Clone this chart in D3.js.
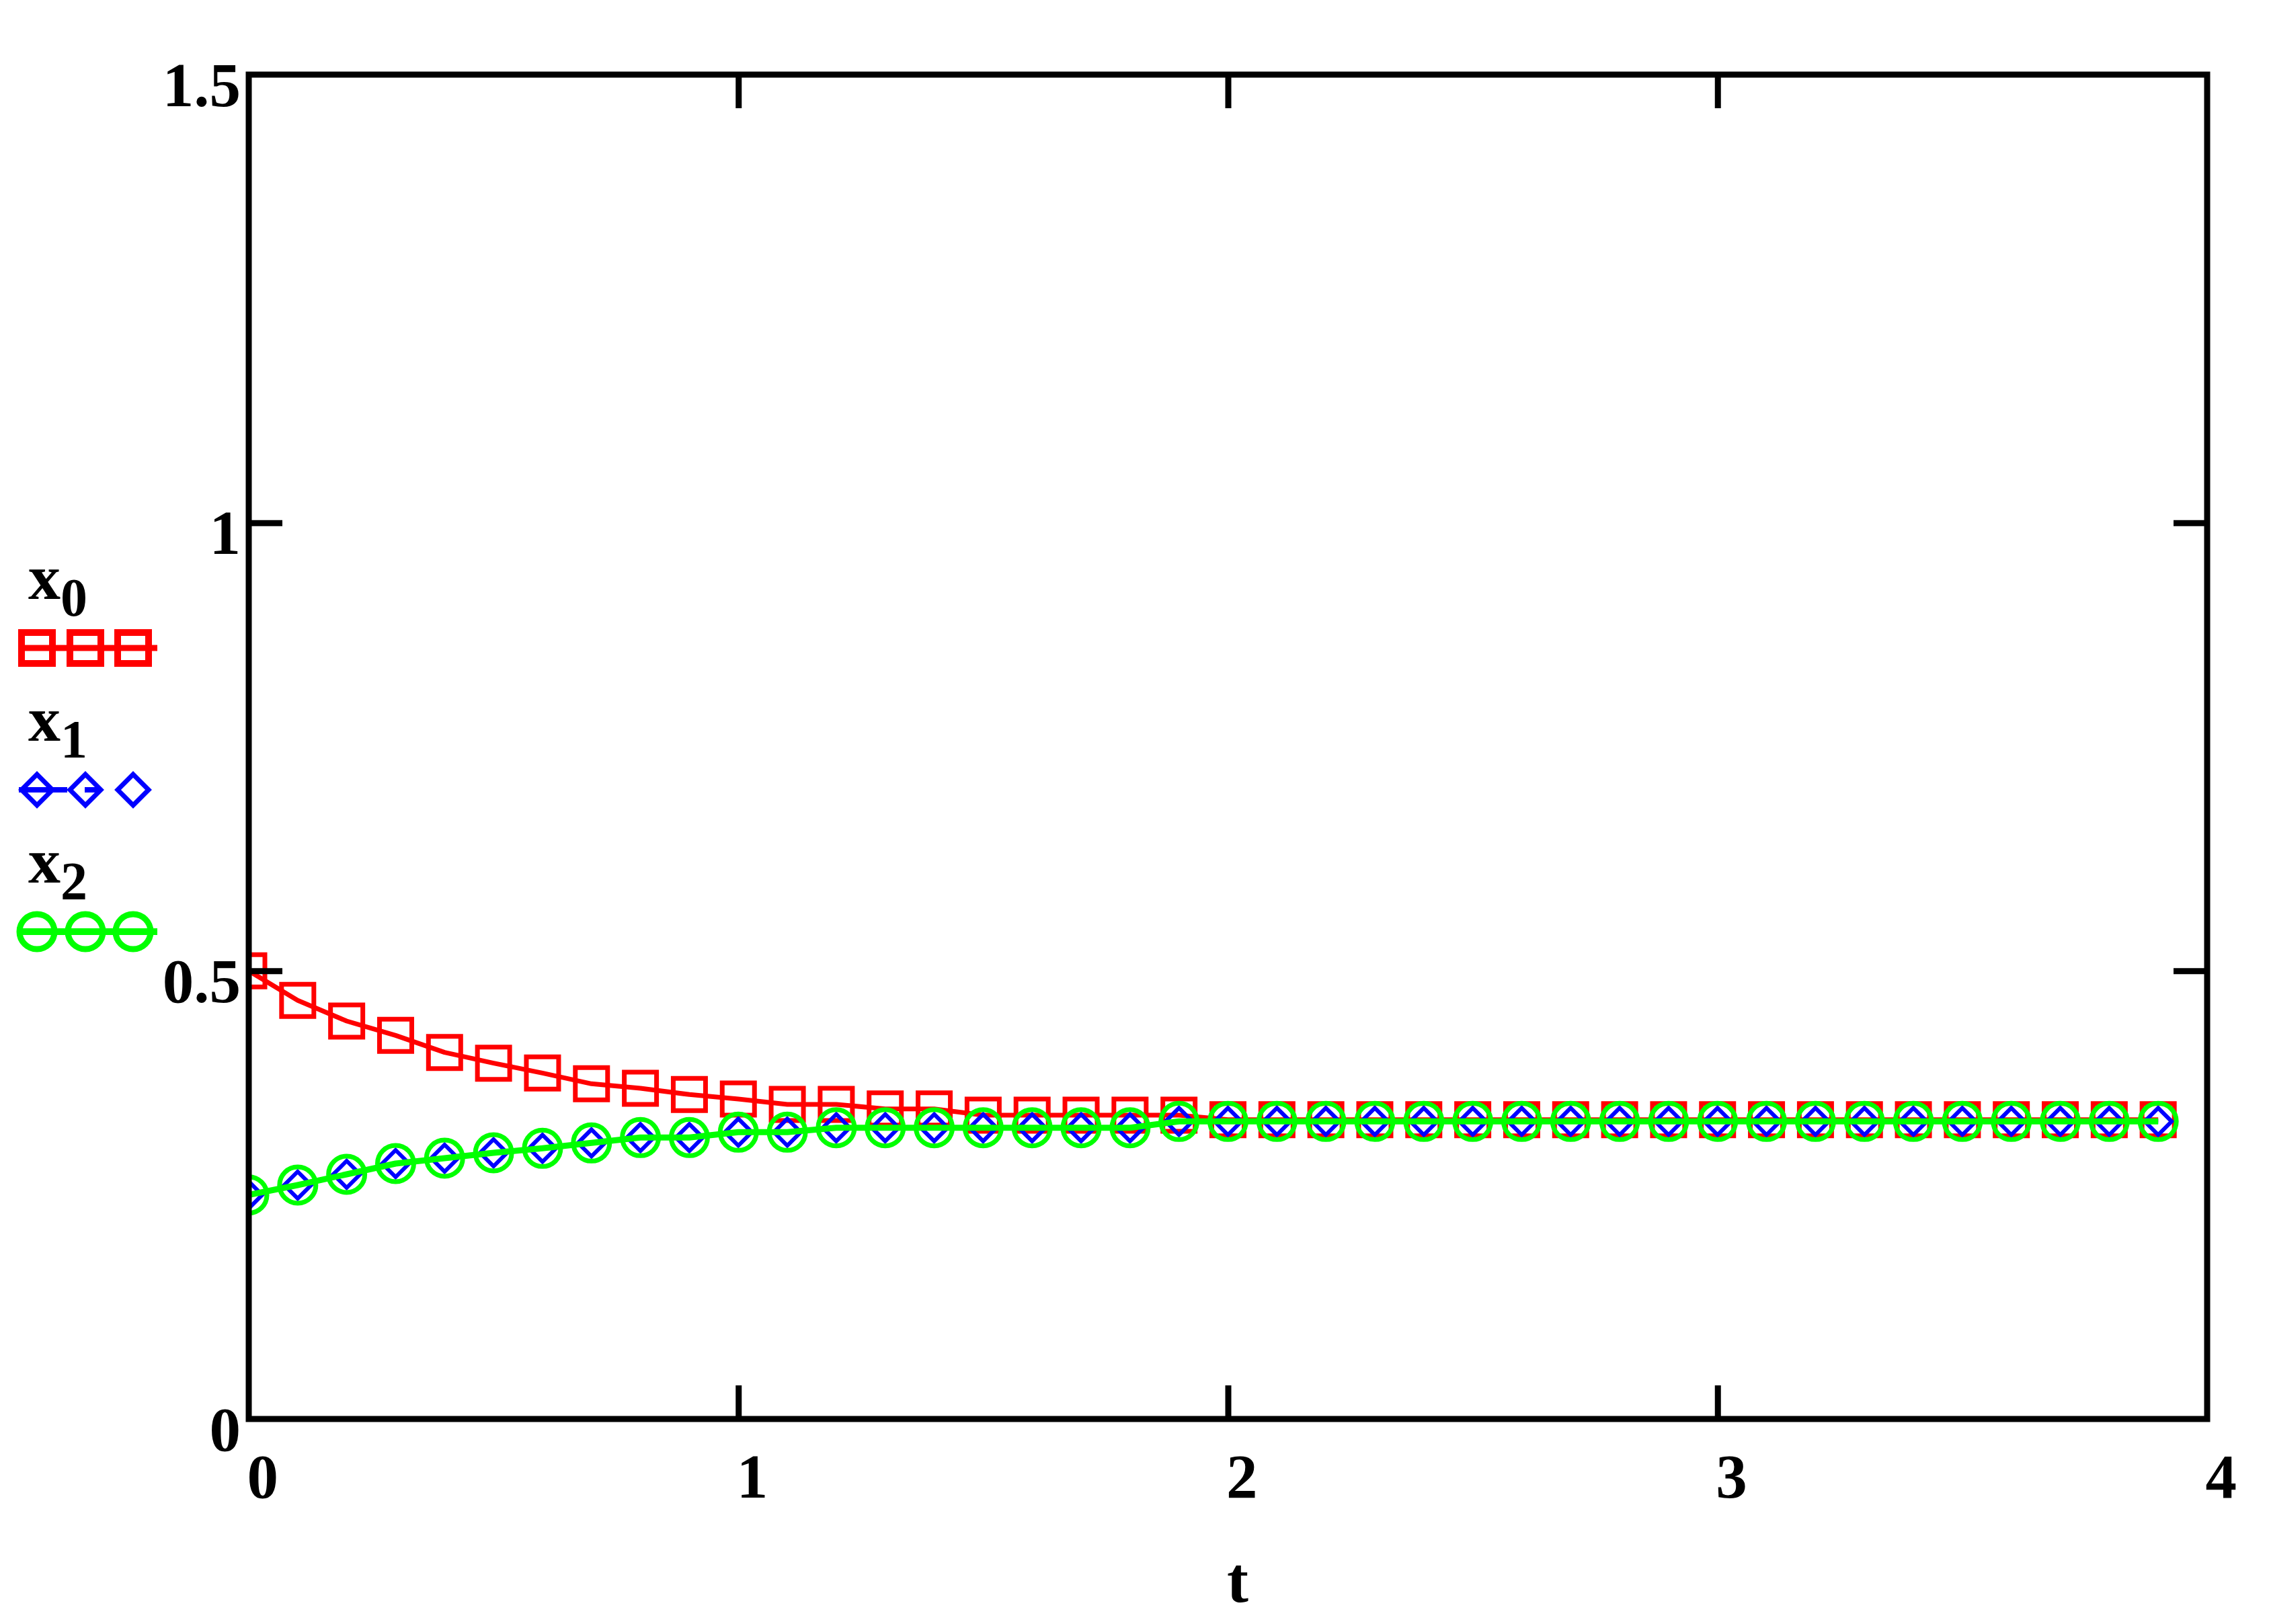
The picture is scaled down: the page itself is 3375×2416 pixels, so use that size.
<!DOCTYPE html>
<html>
<head>
<meta charset="utf-8">
<script src="https://cdn.jsdelivr.net/npm/d3@7"></script>
<style>
  html, body { margin: 0; padding: 0; background: #ffffff; }
  svg { display: block; }
</style>
</head>
<body>
<svg id="chart"></svg>
<script>
// ---------------- DATA ----------------
const tValues = [0.0, 0.1, 0.2, 0.3, 0.4, 0.5, 0.6, 0.7, 0.8, 0.9,
                 1.0, 1.1, 1.2, 1.3, 1.4, 1.5, 1.6, 1.7, 1.8, 1.9,
                 2.0, 2.1, 2.2, 2.3, 2.4, 2.5, 2.6, 2.7, 2.8, 2.9,
                 3.0, 3.1, 3.2, 3.3, 3.4, 3.5, 3.6, 3.7, 3.8, 3.9];

const x0Values = [0.500, 0.467, 0.444, 0.428, 0.409, 0.397, 0.386, 0.374, 0.369, 0.362,
                  0.357, 0.351, 0.351, 0.346, 0.346, 0.339, 0.339, 0.339, 0.339, 0.339,
                  0.334, 0.334, 0.334, 0.334, 0.334, 0.334, 0.334, 0.334, 0.334, 0.334,
                  0.334, 0.334, 0.334, 0.334, 0.334, 0.334, 0.334, 0.334, 0.334, 0.334];

const x1Values = [0.250, 0.261, 0.273, 0.285, 0.291, 0.297, 0.302, 0.308, 0.314, 0.314,
                  0.320, 0.320, 0.325, 0.325, 0.325, 0.325, 0.325, 0.325, 0.325, 0.332,
                  0.332, 0.332, 0.332, 0.332, 0.332, 0.332, 0.332, 0.332, 0.332, 0.332,
                  0.332, 0.332, 0.332, 0.332, 0.332, 0.332, 0.332, 0.332, 0.332, 0.332];

const x2Values = [0.250, 0.261, 0.273, 0.285, 0.291, 0.297, 0.302, 0.308, 0.314, 0.314,
                  0.320, 0.320, 0.325, 0.325, 0.325, 0.325, 0.325, 0.325, 0.325, 0.332,
                  0.332, 0.332, 0.332, 0.332, 0.332, 0.332, 0.332, 0.332, 0.332, 0.332,
                  0.332, 0.332, 0.332, 0.332, 0.332, 0.332, 0.332, 0.332, 0.332, 0.332];

const seriesBase = ["x", "x", "x"];
const seriesSub = ["0", "1", "2"];

const xTickLabelValues = [0, 1, 2, 3, 4];
const xTickLabels = ["0", "1", "2", "3", "4"];
const yTickLabelValues = [0, 0.5, 1, 1.5];
const yTickLabels = ["0", "0.5", "1", "1.5"];
const xInnerTicks = [1, 2, 3];
const yInnerTicks = [0.5, 1];
const xAxisTitle = "t";

// ---------------- LAYOUT ----------------
const W = 3375, H = 2416;
const L = 370, R = 3283, T = 111, B = 2111;
const FONT = "'Liberation Serif', 'Times New Roman', serif";

const svg = d3.select("#chart").attr("width", W).attr("height", H);
svg.append("rect").attr("width", W).attr("height", H).attr("fill", "#ffffff");

const x = d3.scaleLinear().domain([0, 4]).range([L, R]);
const y = d3.scaleLinear().domain([0, 1.5]).range([B, T]);

svg.append("defs").append("clipPath").attr("id", "plotClip")
  .append("rect").attr("x", L).attr("y", T).attr("width", R - L).attr("height", B - T);

const diamondType = {
  draw(ctx, size) {
    const r = Math.sqrt(size / 2);
    ctx.moveTo(0, -r); ctx.lineTo(r, 0); ctx.lineTo(0, r); ctx.lineTo(-r, 0); ctx.closePath();
  }
};

const series = [
  { values: x0Values, color: "#ff0000", type: d3.symbolSquare, size: 48 * 48, lw: 7, mw: 7, dash: null,
    legSize: 46 * 46, legMw: 10, legLw: 9, legDash: null },
  { values: x1Values, color: "#0000ff", type: diamondType, size: 2 * 20 * 20, lw: 7, mw: 6, dash: "24,16",
    legSize: 2 * 23 * 23, legMw: 7, legLw: 8, legDash: "72,26,22,300" },
  { values: x2Values, color: "#00ff00", type: d3.symbolCircle, size: Math.PI * 27 * 27, lw: 9, mw: 7, dash: null,
    legSize: Math.PI * 26 * 26, legMw: 9, legLw: 10, legDash: null }
];

// ---------------- PLOT ----------------
const plot = svg.append("g").attr("clip-path", "url(#plotClip)");
const line = d3.line().x((d, i) => x(tValues[i])).y(d => y(d));

series.forEach(s => {
  const g = plot.append("g");
  g.append("path").datum(s.values)
    .attr("d", line)
    .attr("fill", "none")
    .attr("stroke", s.color)
    .attr("stroke-width", s.lw)
    .attr("stroke-dasharray", s.dash)
    .attr("stroke-linejoin", "round");
  const sym = d3.symbol().type(s.type).size(s.size);
  g.selectAll("path.m").data(s.values).join("path")
    .attr("class", "m")
    .attr("transform", (d, i) => `translate(${x(tValues[i])},${y(d)})`)
    .attr("d", sym)
    .attr("fill", "none")
    .attr("stroke", s.color)
    .attr("stroke-width", s.mw);
});

// ---------------- FRAME & TICKS ----------------
function styleTicks(g) {
  g.select(".domain").remove();
  g.selectAll(".tick line").attr("stroke", "#000").attr("stroke-width", 9);
  g.selectAll(".tick text").remove();
}
svg.append("g").attr("transform", `translate(0,${B})`)
  .call(d3.axisBottom(x).tickValues(xInnerTicks).tickSize(-50)).call(styleTicks);
svg.append("g").attr("transform", `translate(0,${T})`)
  .call(d3.axisTop(x).tickValues(xInnerTicks).tickSize(-50)).call(styleTicks);
svg.append("g").attr("transform", `translate(${L},0)`)
  .call(d3.axisLeft(y).tickValues(yInnerTicks).tickSize(-50)).call(styleTicks);
svg.append("g").attr("transform", `translate(${R},0)`)
  .call(d3.axisRight(y).tickValues(yInnerTicks).tickSize(-50)).call(styleTicks);

svg.append("rect")
  .attr("x", L).attr("y", T).attr("width", R - L).attr("height", B - T)
  .attr("fill", "none").attr("stroke", "#000").attr("stroke-width", 9);

// ---------------- TICK LABELS ----------------
const xl = svg.append("g").attr("transform", `translate(0,2228)`)
  .call(d3.axisBottom(x).tickValues(xTickLabelValues).tickSize(0).tickPadding(0)
    .tickFormat((d, i) => xTickLabels[i]));
xl.select(".domain").remove();
xl.selectAll(".tick text")
  .attr("x", -3).attr("y", 0).attr("dy", null)
  .attr("text-anchor", "start")
  .attr("fill", "#000")
  .style("font-family", FONT).style("font-size", "93px").style("font-weight", "bold");

const yl = svg.append("g").attr("transform", `translate(358,0)`)
  .call(d3.axisLeft(y).tickValues(yTickLabelValues).tickSize(0).tickPadding(0)
    .tickFormat((d, i) => yTickLabels[i]));
yl.select(".domain").remove();
yl.selectAll(".tick text")
  .attr("x", 0).attr("y", 46).attr("dy", null)
  .attr("text-anchor", "end")
  .attr("fill", "#000")
  .style("font-family", FONT).style("font-size", "93px").style("font-weight", "bold");

svg.append("text")
  .attr("x", 1841).attr("y", 2383)
  .attr("text-anchor", "middle")
  .style("font-family", FONT).style("font-size", "96px").style("font-weight", "bold")
  .text(xAxisTitle);

// ---------------- LEGEND ----------------
const legendX0 = 28, legendX1 = 234;
const legendMarkerX = [55, 127, 198];
series.forEach((s, i) => {
  const g = svg.append("g");
  const baseY = 891 + i * 211;
  const rowY = 964 + i * 211;
  const txt = g.append("text").attr("x", 42).attr("y", baseY)
    .style("font-family", FONT).style("font-weight", "bold").attr("fill", "#000");
  txt.append("tspan").style("font-size", "96px").text(seriesBase[i]);
  txt.append("tspan").attr("dy", 25).style("font-size", "80px").text(seriesSub[i]);

  g.append("line").attr("x1", legendX0).attr("x2", legendX1).attr("y1", rowY).attr("y2", rowY)
    .attr("stroke", s.color).attr("stroke-width", s.legLw).attr("stroke-dasharray", s.legDash);
  const sym = d3.symbol().type(s.type).size(s.legSize);
  g.selectAll("path").data(legendMarkerX).join("path")
    .attr("transform", d => `translate(${d},${rowY})`)
    .attr("d", sym)
    .attr("fill", "none").attr("stroke", s.color).attr("stroke-width", s.legMw);
});
</script>
</body>
</html>
